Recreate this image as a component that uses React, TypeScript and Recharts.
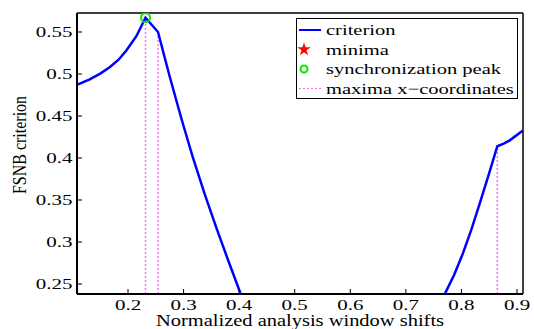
import { ComposedChart, Line, Scatter, XAxis, YAxis, ReferenceLine, Legend, Symbols } from 'recharts';

// normalized analysis window shifts and the FSNB criterion
const shifts = [
  0.108, 0.131, 0.150, 0.167, 0.183, 0.197, 0.215, 0.2315, 0.254, 0.275, 0.296, 0.317, 0.338, 0.360, 0.382,
  0.404, 0.43, 0.50, 0.60, 0.70, 0.745, 0.770, 0.787, 0.803, 0.818, 0.833, 0.849, 0.8646, 0.876, 0.887, 0.91,
];
const criterion = [
  0.487, 0.4935, 0.5005, 0.508, 0.517, 0.528, 0.545, 0.567, 0.550, 0.497, 0.447, 0.400, 0.357, 0.315, 0.275,
  0.236, 0.19, 0.10, 0.06, 0.12, 0.205, 0.238, 0.261, 0.287, 0.315, 0.346, 0.380, 0.414, 0.4172, 0.421, 0.4325,
];

const maximaX = [0.2315, 0.254, 0.8646];
const maximaY = [0.567, 0.55, 0.414];
const peakX = [0.2315];
const peakY = [0.567];

const xTicks = [0.2, 0.3, 0.4, 0.5, 0.6, 0.7, 0.8, 0.9];
const yTicks = [0.25, 0.3, 0.35, 0.4, 0.45, 0.5, 0.55];
const legendNames = ['criterion', 'minima', 'synchronization peak', 'maxima x\u2212coordinates'];

const xDomain = [0.1082, 0.9108];
const yDomain = [0.2381, 0.5726];

const serif = '"Liberation Serif", "Times New Roman", serif';
const pink = '#ff66ff';

const criterionData = shifts.map((x, i) => ({ x, y: criterion[i] }));
const peakData = peakX.map((x, i) => ({ x, y: peakY[i] }));

const XTick = ({ x, y, payload }: any) => (
  <text transform={`translate(${x},${y + 21}) scale(1.4,1)`} textAnchor="middle" fontFamily={serif} fontSize={15} fill="#000">
    {payload.value}
  </text>
);

const YTick = ({ x, y, payload }: any) => (
  <text transform={`translate(${x - 9.5},${y + 5}) scale(1.4,1)`} textAnchor="end" fontFamily={serif} fontSize={15} fill="#000">
    {payload.value}
  </text>
);

const XLabel = ({ viewBox }: any) => (
  <text transform={`translate(${viewBox.x + viewBox.width / 2},${viewBox.y + 32}) scale(1.28,1)`} textAnchor="middle" fontFamily={serif} fontSize={16} fill="#000">
    Normalized analysis window shifts
  </text>
);

const YLabel = () => (
  <text transform="translate(26,145) rotate(-90) scale(1,1.2)" textAnchor="middle" fontFamily={serif} fontSize={16} fill="#000">
    FSNB criterion
  </text>
);

const LegendBox = () => {
  const base = [17, 36.5, 56, 75.5];
  return (
    <svg width={222} height={81} style={{ display: 'block' }}>
      <rect x={0.5} y={0.5} width={221} height={80} fill="#fff" stroke="#000" strokeWidth={1} />
      <line x1={3} x2={25} y1={base[0] - 5} y2={base[0] - 5} stroke="#0000ff" strokeWidth={2} />
      <Symbols cx={8} cy={base[1] - 5} type="star" size={55} fill="#ff0000" />
      <circle cx={8} cy={base[2] - 5} r={3.5} fill="none" stroke="#00ee00" strokeWidth={2} />
      <line x1={3} x2={25} y1={base[3] - 5} y2={base[3] - 5} stroke={pink} strokeWidth={1} strokeDasharray="2 2" />
      {legendNames.map((name, i) => (
        <text key={name} transform={`translate(30,${base[i]}) scale(1.37,1)`} fontFamily={serif} fontSize={15} fill="#000">
          {name}
        </text>
      ))}
    </svg>
  );
};

export default function App() {
  return (
    <div style={{ position: 'absolute', left: 0, top: 0, background: '#fff' }}>
      <ComposedChart width={534} height={329} margin={{ top: 12, right: 10, bottom: 0, left: 0 }}>
        <XAxis
          xAxisId={0}
          dataKey="x"
          type="number"
          domain={xDomain}
          ticks={xTicks}
          allowDataOverflow
          height={35}
          tickSize={-5}
          tickMargin={0}
          tick={<XTick />}
          axisLine={{ stroke: '#000', strokeWidth: 2 }}
          tickLine={{ stroke: '#000' }}
          label={{ content: XLabel }}
        />
        <XAxis
          xAxisId="top"
          orientation="top"
          dataKey="x"
          type="number"
          domain={xDomain}
          ticks={xTicks}
          allowDataOverflow
          height={1}
          tickSize={-5}
          tick={false}
          axisLine={{ stroke: '#000', strokeWidth: 1.5 }}
          tickLine={{ stroke: '#000' }}
        />
        <YAxis
          yAxisId={0}
          type="number"
          domain={yDomain}
          ticks={yTicks}
          allowDataOverflow
          width={77}
          tickSize={-5}
          tickMargin={0}
          tick={<YTick />}
          axisLine={{ stroke: '#000', strokeWidth: 2 }}
          tickLine={{ stroke: '#000' }}
          label={{ content: YLabel }}
        />
        <YAxis
          yAxisId="right"
          orientation="right"
          type="number"
          domain={yDomain}
          ticks={yTicks}
          allowDataOverflow
          width={1}
          tickSize={-5}
          tick={false}
          axisLine={{ stroke: '#000', strokeWidth: 1.5 }}
          tickLine={{ stroke: '#000' }}
        />
        {maximaX.map((mx, i) => (
          <ReferenceLine
            key={mx}
            segment={[
              { x: mx, y: yDomain[0] },
              { x: mx, y: maximaY[i] },
            ]}
            stroke={pink}
            strokeWidth={1.5}
            strokeDasharray="2 2"
          />
        ))}
        <Line
          data={criterionData}
          dataKey="y"
          type="linear"
          stroke="#0000ff"
          strokeWidth={2.5}
          dot={false}
          isAnimationActive={false}
        />
        <Scatter
          data={peakData}
          dataKey="y"
          isAnimationActive={false}
          shape={(p: any) => <circle cx={p.cx} cy={p.cy} r={4.5} fill="none" stroke="#00ee00" strokeWidth={2} />}
        />
        <Legend
          layout="vertical"
          align="center"
          verticalAlign="middle"
          content={<LegendBox />}
          wrapperStyle={{ position: 'absolute', left: 296, top: 18, width: 222, height: 81 }}
        />
      </ComposedChart>
    </div>
  );
}
